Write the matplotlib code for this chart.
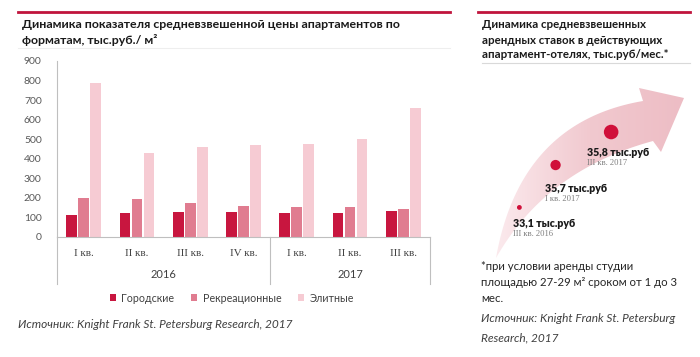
import numpy as np
import matplotlib
matplotlib.use("Agg")
import matplotlib.pyplot as plt
from matplotlib.patches import Polygon
from matplotlib.lines import Line2D
from matplotlib.colors import LinearSegmentedColormap

plt.rcParams['font.family'] = ['Lato', 'DejaVu Sans']

# --- data ---
quarters = ["I кв.", "II кв.", "III кв.", "IV кв.", "I кв.", "II кв.", "III кв."]
years = ["2016", "2017"]
year_sizes = [4, 3]
city = [111, 124, 129, 129, 122, 124, 133]
recreation = [197, 194, 173, 160, 153, 153, 144]
elite = [790, 430, 459, 473, 474, 503, 662]
series_names = ["Городские", "Рекреационные", "Элитные"]

rent_values = [33.1, 35.7, 35.8]
rent_periods = ["III кв. 2016", "I кв. 2017", "III кв. 2017"]

colors = ["#c8163f", "#e07c90", "#f6cbd3"]
RED = "#c0143c"
W, H = 700, 357


def fx(px):
    return px / W


def fy(py):
    return 1 - py / H


fig = plt.figure(figsize=(7, 3.57), dpi=100)

# background canvas in pixel units (for the arrow infographic)
bg = fig.add_axes([0, 0, 1, 1])
bg.set_xlim(0, W)
bg.set_ylim(H, 0)
bg.axis("off")

# header lines
bg.plot([18, 450], [12, 12], color=RED, lw=2)
bg.plot([478, 690], [12, 12], color=RED, lw=2)
bg.plot([18, 450], [48, 48], color="#eeeeee", lw=0.8)
bg.plot([482, 690], [63, 63], color="#d9d9d9", lw=0.8)

# titles
fig.text(fx(22), fy(25), "Динамика показателя средневзвешенной цены апартаментов по",
         fontsize=8.9, fontweight="bold", color="#1a1a1a", va="center")
fig.text(fx(22), fy(40), "форматам, тыс.руб./ м²",
         fontsize=8.9, fontweight="bold", color="#1a1a1a", va="center")
for i, line in enumerate(["Динамика средневзвешенных", "арендных ставок в действующих",
                          "апартамент-отелях, тыс.руб/мес.*"]):
    fig.text(fx(482), fy(25 + 15 * i), line, fontsize=8.3, fontweight="bold",
             color="#1a1a1a", va="center")

# --- bar chart ---
ax = fig.add_axes([fx(57), fy(237), fx(430) - fx(57), fy(61) - fy(237)])
x = np.arange(len(quarters))
bw = 0.2
step = 0.225
for i, (vals, name) in enumerate(zip([city, recreation, elite], series_names)):
    ax.bar(x + (i - 1) * step, vals, width=bw, color=colors[i], label=name, zorder=2)

ax.set_xlim(-0.5, len(quarters) - 0.5)
ax.set_ylim(0, 900)
ax.set_yticks(range(0, 901, 100))
ax.tick_params(axis="y", length=0, labelsize=7.5, labelcolor="#595959", pad=11)
ax.set_xticks(x)
ax.set_xticklabels(quarters, family="Liberation Serif", fontsize=8, color="#404040")
ax.tick_params(axis="x", length=0, pad=9)
for s in ["top", "right"]:
    ax.spines[s].set_visible(False)
ax.spines["left"].set_color("#bfbfbf")
ax.spines["bottom"].set_color("#bfbfbf")
ax.patch.set_alpha(0)

# year groups with separators
trans = ax.get_xaxis_transform()
edges = np.concatenate([[0], np.cumsum(year_sizes)]) - 0.5
for e in edges:
    ax.add_line(Line2D([e, e], [0, -0.265], transform=trans, color="#bfbfbf",
                       lw=0.8, clip_on=False))
for yr, a, b in zip(years, edges[:-1], edges[1:]):
    ax.text((a + b) / 2, -0.215, yr, transform=trans, ha="center", va="center",
            fontsize=8, color="#404040")

leg = fig.legend(loc="center", bbox_to_anchor=(fx(232), fy(298)), ncol=3, frameon=False,
                 fontsize=7.7, handlelength=0.55, handleheight=0.55, handletextpad=0.5,
                 columnspacing=1.6, labelcolor="#404040")

fig.text(fx(18), fy(325), "Источник: Knight Frank St. Petersburg Research, 2017",
         fontsize=8.6, style="italic", color="#404040", va="center")

# --- arrow infographic ---
def bez(p0, p1, p2, t):
    t = np.asarray(t)[:, None]
    return (1 - t) ** 2 * np.array(p0) + 2 * (1 - t) * t * np.array(p1) + t ** 2 * np.array(p2)

ts = np.linspace(0, 1, 60)
upper = bez((496, 258), (520, 122), (643, 101), ts)
lower = bez((496, 258), (546, 170), (653, 141), ts)
head = np.array([[639, 88], [684, 98], [661, 152]])
outline = np.vstack([upper, head, lower[::-1]])
poly = Polygon(outline, closed=True, facecolor="none", edgecolor="none")
bg.add_patch(poly)
cmap = LinearSegmentedColormap.from_list("arr", ["#fcecef", "#f1c9cf", "#edbcc4"])
grad = np.linspace(0, 1, 256)[None, :]
im = bg.imshow(grad, cmap=cmap, extent=(490, 690, 262, 84), aspect="auto",
               interpolation="bicubic", zorder=1)
im.set_clip_path(poly)

center = bez((496, 258), (533, 146), (648, 121), [0.25, 0.52, 0.83])
dot_sizes = [12, 55, 110]
label_offsets = [(-6, 16), (-11, 23), (-24, 20)]
for (cx, cy), v, per, s, (dx, dy) in zip(center, rent_values, rent_periods, dot_sizes, label_offsets):
    bg.scatter([cx], [cy], s=s, color="#d0103a", zorder=3, edgecolors="none")
    bg.text(cx + dx, cy + dy, f"{v:.1f}".replace(".", ",") + " тыс.руб",
            fontsize=7.6, fontweight="heavy", color="#1a1a1a", va="center", zorder=4)
    bg.text(cx + dx, cy + dy + 11, per, family="Liberation Serif", fontsize=6.2,
            color="#7f7f7f", va="center", zorder=4)

fig.text(fx(481), fy(267), "*при условии аренды студии", fontsize=8.2, color="#262626", va="center")
fig.text(fx(481), fy(283), "площадью 27-29 м² сроком от 1 до 3", fontsize=8.2, color="#262626", va="center")
fig.text(fx(481), fy(298), "мес.", fontsize=8.2, color="#262626", va="center")
fig.text(fx(481), fy(318), "Источник: Knight Frank St. Petersburg", fontsize=8.6,
         style="italic", color="#404040", va="center")
fig.text(fx(481), fy(338), "Research, 2017", fontsize=8.6, style="italic", color="#404040", va="center")

fig.savefig("out.png", dpi=100, facecolor="white")
